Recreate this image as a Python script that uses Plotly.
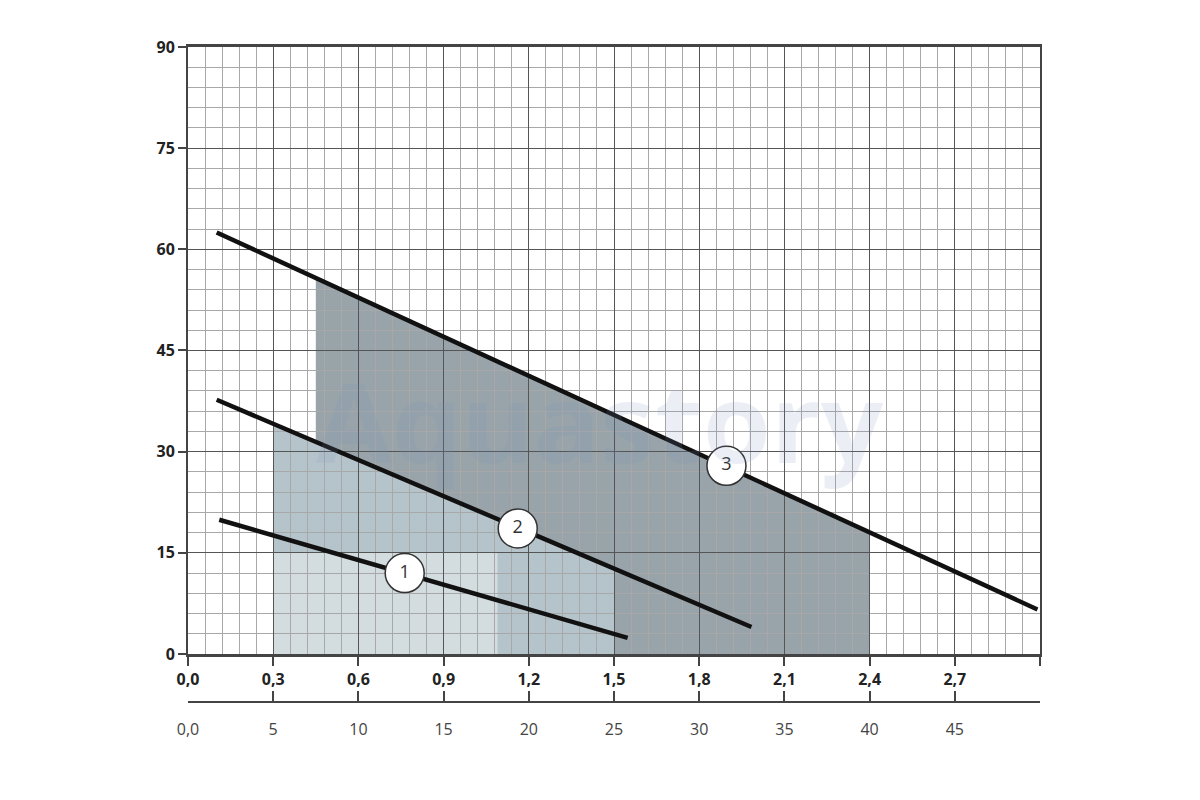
import plotly.graph_objects as go

# Q, m3/h  and  H, m
pump_names = ["1", "2", "3"]
pump_q = [[0.11, 1.548], [0.101, 1.984], [0.101, 2.991]]
pump_h = [[19.9, 2.4], [37.7, 4.0], [62.5, 6.6]]

# label circles on the curves
label_q = [0.763, 1.161, 1.896]
label_h = [12.0, 18.6, 27.9]

# shaded working zones: q from / to, head at left / right edge of top
zone_q = [[0.45, 2.4], [0.3, 1.5], [0.3, 1.09]]
zone_top = [[55.8, 18.0], [34.1, 12.7], [15.0, 15.0]]
zone_colors = ["#98a4aa", "#b5c3cb", "#d3dcdf"]

# axis ticks
q_ticks = [0.0, 0.3, 0.6, 0.9, 1.2, 1.5, 1.8, 2.1, 2.4, 2.7, 3.0]
q_labels = ["0,0", "0,3", "0,6", "0,9", "1,2", "1,5", "1,8", "2,1", "2,4", "2,7", ""]
lmin_ticks = [0, 5, 10, 15, 20, 25, 30, 35, 40, 45, 50]
lmin_labels = ["0,0", "5", "10", "15", "20", "25", "30", "35", "40", "45", ""]
h_ticks = [0, 15, 30, 45, 60, 75, 90]

fig = go.Figure()

# zones as shapes under the grid
shapes = []
for qs, tops, col in zip(zone_q, zone_top, zone_colors):
    path = f"M {qs[0]},0 L {qs[0]},{tops[0]} L {qs[1]},{tops[1]} L {qs[1]},0 Z"
    shapes.append(dict(type="path", path=path, xref="x", yref="y",
                       fillcolor=col, line_width=0, layer="below"))

for name, q, h in zip(pump_names, pump_q, pump_h):
    fig.add_trace(go.Scatter(x=q, y=h, mode="lines", name=name,
                             line=dict(color="#111111", width=4.5),
                             showlegend=False))

fig.add_trace(go.Scatter(x=label_q, y=label_h, mode="markers+text", text=pump_names,
                         textposition="middle center",
                         textfont=dict(family="Open Sans", size=18, color="#333333"),
                         marker=dict(size=39, color="white",
                                     line=dict(color="#333333", width=1.5)),
                         showlegend=False))

# dummy trace so the l/min axis is drawn
fig.add_trace(go.Scatter(x=[0, 50], y=[0, 0], xaxis="x2", mode="markers",
                         marker=dict(opacity=0), hoverinfo="skip", showlegend=False))

fig.update_layout(
    width=1200, height=800,
    margin=dict(l=180, r=168, t=39, b=106),
    paper_bgcolor="white", plot_bgcolor="white",
    shapes=shapes,
    xaxis=dict(range=[0, 3.0], tickmode="array", tickvals=q_ticks, ticktext=q_labels,
               ticks="outside", ticklen=9, tickwidth=1.5, tickcolor="#444",
               tickfont=dict(family="Open Sans", size=16, color="#222", weight="bold"),
               showgrid=True, gridcolor="#555", gridwidth=1.3,
               minor=dict(tick0=0, dtick=0.06, showgrid=True, gridcolor="#a8a8a8", gridwidth=1),
               showline=True, linecolor="#444", linewidth=2.5, mirror=True,
               zeroline=False, anchor="y"),
    yaxis=dict(domain=[0.0733, 1], range=[0, 90], tickmode="array", tickvals=h_ticks,
               ticks="outside", ticklen=8, tickwidth=1.5, tickcolor="#444",
               tickfont=dict(family="Open Sans", size=16, color="#222", weight="bold"),
               showgrid=True, gridcolor="#555", gridwidth=1.3,
               minor=dict(tick0=0, dtick=3, showgrid=True, gridcolor="#a8a8a8", gridwidth=1),
               showline=True, linecolor="#444", linewidth=2, mirror=True,
               zeroline=False),
    xaxis2=dict(overlaying="x", anchor="free", position=0, side="bottom",
                range=[0, 50], tickmode="array", tickvals=lmin_ticks, ticktext=lmin_labels,
                ticks="inside", ticklen=10, tickwidth=1.5, tickcolor="#444",
                ticklabelstandoff=13,
                tickfont=dict(family="Open Sans", size=16, color="#444"),
                showgrid=False, zeroline=False,
                showline=True, linecolor="#444", linewidth=2),
    annotations=[dict(text="Aquastory", xref="paper", yref="paper", x=0.484, y=0.43,
                      showarrow=False,
                      font=dict(family="Open Sans", size=110, color="rgba(120,150,190,0.15)",
                                weight="bold"))],
)

fig.write_html("out.html")
